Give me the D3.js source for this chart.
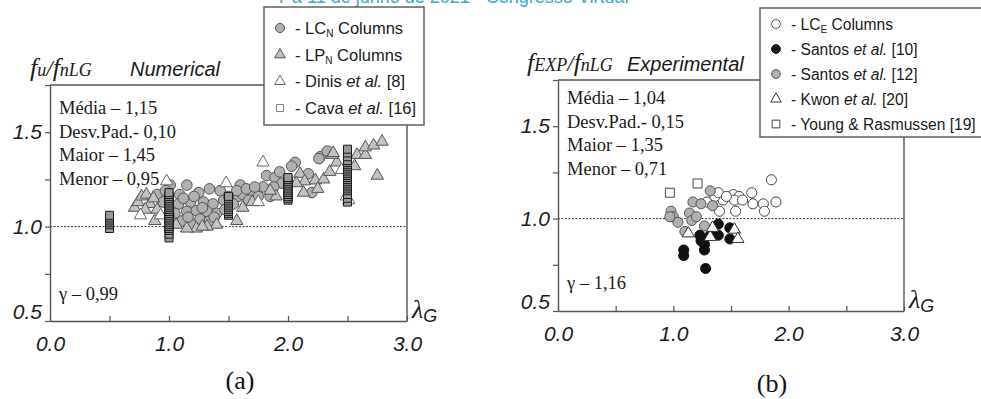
<!DOCTYPE html>
<html>
<head>
<meta charset="utf-8">
<script src="https://cdn.jsdelivr.net/npm/d3@7"></script>
<style>
  body { margin: 0; background: #fff; }
  svg { display: block; }
</style>
</head>
<body>
<div id="chart"></div>
<script>
// --- datos ---
// (a) Numerical: [lambdaG, fu/fnLG]
var lcN = [[0.90,1.17],[1.01,1.22],[1.15,1.22],[1.09,1.17],[1.25,1.18],[1.34,1.20],[1.43,1.19],[1.08,1.12],
  [1.18,1.13],[1.29,1.13],[1.37,1.12],[1.15,1.08],[1.23,1.085],[1.32,1.08],[1.40,1.07],[1.11,1.03],[1.26,1.04],
  [1.34,1.03],[1.19,1.01],[1.60,1.22],[1.58,1.16],[1.54,1.12],[1.05,1.07],[0.95,1.13],[0.97,1.19],[2.06,1.34],
  [2.03,1.32],[1.82,1.27],[1.89,1.26],[1.93,1.29],[1.95,1.23],[1.88,1.21],[1.79,1.21],[1.74,1.17],[1.68,1.18],
  [1.62,1.17],[1.57,1.19],[1.67,1.14],[1.75,1.16],[1.85,1.16],[2.17,1.28],[2.20,1.18],[2.27,1.37],[2.33,1.40],
  [2.26,1.36],[1.12,1.15],[1.21,1.16],[1.28,1.10],[1.46,1.14],[1.50,1.16],[1.65,1.20],[1.72,1.21],[1.00,1.06],
  [1.16,1.05],[1.38,1.05],[1.47,1.09]];
var lpN = [[0.71,1.10],[0.74,1.13],[0.77,1.16],[0.81,1.17],[0.84,1.12],[0.87,1.15],[0.80,1.09],[0.90,1.09],
  [0.88,1.03],[1.23,0.99],[1.06,1.01],[1.40,1.01],[1.32,1.00],[1.57,1.03],[2.10,1.28],[2.14,1.24],[2.23,1.245],
  [2.30,1.25],[2.35,1.29],[2.41,1.34],[2.37,1.38],[1.90,1.16],[2.13,1.18],[2.07,1.23],[2.38,1.39],[2.58,1.38],
  [2.56,1.32],[2.65,1.38],[2.65,1.42],[2.72,1.43],[2.79,1.45],[2.75,1.27],[1.15,0.99],[1.28,1.00],[1.62,1.10],
  [1.70,1.13],[1.85,1.19],[2.25,1.20]];
var dinis = [[0.98,1.24],[1.48,1.23],[1.79,1.34],[0.76,1.06],[0.93,1.06],[2.49,1.16],[2.51,1.14],[1.75,1.13],[2.45,1.30]];
var cavaLambda = [0.5, 1.0, 1.5, 2.0, 2.5];
var cavaValues = [
  [0.99,1.01,1.02,1.03,1.04,1.05,1.06],
  [0.94,0.96,0.98,0.99,1.00,1.01,1.02,1.03,1.04,1.05,1.06,1.07,1.08,1.09,1.10,1.11,1.12,1.13,1.14,1.15,1.16,1.17,1.18],
  [1.06,1.07,1.08,1.09,1.10,1.11,1.12,1.13,1.14,1.15,1.16],
  [1.14,1.15,1.16,1.17,1.18,1.19,1.20,1.21,1.22,1.23,1.24,1.25,1.26],
  [1.13,1.15,1.17,1.19,1.20,1.21,1.22,1.23,1.24,1.25,1.26,1.27,1.28,1.29,1.30,1.31,1.32,1.33,1.34,1.35,1.37,1.39,1.41]
];

// (b) Experimental: [lambdaG, fEXP/fnLG]
var lcE = [[1.85,1.21],[1.89,1.09],[1.52,1.13],[1.57,1.12],[1.68,1.14],[1.69,1.08],[1.78,1.08],[1.79,1.04],
  [1.54,1.04],[1.43,1.10],[1.40,1.04],[1.36,1.12],[1.29,1.09],[1.53,1.10],[1.39,1.14],[1.46,1.12],[1.60,1.10]];
var santos10 = [[1.09,0.83],[1.09,0.80],[1.27,0.83],[1.28,0.73],[1.23,0.91],[1.24,0.88],[1.39,0.97],[1.39,0.91],
  [1.49,0.95],[1.49,0.89],[1.32,0.91],[1.27,0.86]];
var santos12 = [[1.32,1.15],[1.17,1.09],[1.24,1.08],[1.34,1.07],[0.98,1.04],[1.00,1.01],[1.04,0.98],[1.14,1.03],
  [1.16,0.99],[1.20,1.01],[1.10,0.93],[1.27,0.96],[0.97,1.01]];
var kwon = [[1.13,0.92],[1.32,0.90],[1.34,0.95],[1.53,0.94],[1.56,0.89]];
var young = [[0.97,1.14],[1.21,1.19]];

var xTicks = [0, 0.5, 1, 1.5, 2, 2.5, 3];
var yTicks = [0.5, 0.75, 1, 1.25, 1.5, 1.75];
var statsA = ["Média – 1,15", "Desv.Pad.- 0,10", "Maior – 1,45", "Menor – 0,95"];
var statsB = ["Média – 1,04", "Desv.Pad.- 0,15", "Maior – 1,35", "Menor – 0,71"];

var SANS = "'Liberation Sans', Arial, sans-serif";
var SERIF = "'Liberation Serif', 'Times New Roman', serif";

var svg = d3.select("#chart").append("svg")
    .attr("width", 981)
    .attr("height", 399);

// encabezado (cortado arriba, como en la figura)
svg.append("text")
    .attr("x", 277).attr("y", 3)
    .attr("font-family", SANS).attr("font-size", 18)
    .attr("fill", "#3ba8c8")
    .text("7 a 11 de junho de 2021 - Congresso Virtual");

function drawPanel(p) {
    var x = d3.scaleLinear().domain([0, 3]).range([p.x0, p.x1]);
    var y = d3.scaleLinear().domain([0.5, 1.75]).range([p.y0, p.y1]);
    var g = svg.append("g");

    // linea punteada en 1.0
    g.append("line")
        .attr("x1", x(0)).attr("x2", x(3))
        .attr("y1", y(1)).attr("y2", y(1))
        .attr("stroke", "#333").attr("stroke-width", 1)
        .attr("stroke-dasharray", "2,1.5");

    // marco: arriba hasta la leyenda, derecha hasta la leyenda
    g.append("line")
        .attr("x1", x(0)).attr("x2", p.legX)
        .attr("y1", y(1.75)).attr("y2", y(1.75))
        .attr("stroke", "#555").attr("stroke-width", 1.4);
    g.append("line")
        .attr("x1", x(3)).attr("x2", x(3))
        .attr("y1", y(0.5)).attr("y2", p.legBottom)
        .attr("stroke", "#555").attr("stroke-width", 1.4);

    // ejes
    var yAxis = g.append("g")
        .attr("transform", "translate(" + x(0) + ",0)")
        .call(d3.axisLeft(y).tickValues(yTicks).tickSize(5).tickSizeOuter(0).tickPadding(3)
            .tickFormat(function(d) { return (d === 0.5 || d === 1 || d === 1.5) ? d.toFixed(1) : ""; }));
    var xAxis = g.append("g")
        .attr("transform", "translate(0," + y(0.5) + ")")
        .call(d3.axisBottom(x).tickValues(xTicks).tickSizeInner(-5).tickSizeOuter(0).tickPadding(15)
            .tickFormat(function(d) { return d % 1 === 0 ? d.toFixed(1) : ""; }));
    [yAxis, xAxis].forEach(function(a) {
        a.select(".domain").attr("stroke", "#555").attr("stroke-width", 1.4);
        a.selectAll(".tick line").attr("stroke", "#555").attr("stroke-width", 1.2);
        a.selectAll(".tick text")
            .attr("font-family", SANS).attr("font-size", 21)
            .attr("font-style", "italic").attr("fill", "#1a1a1a");
    });
    yAxis.selectAll(".tick text").filter(function(d) { return d === 0.5; }).attr("dy", "-0.1em");

    // puntos
    p.series.forEach(function(s) {
        var sym = d3.symbol().type(s.shape).size(s.size);
        g.append("g").selectAll("path")
            .data(s.data)
            .enter().append("path")
            .attr("d", sym)
            .attr("transform", function(d) { return "translate(" + x(d[0]) + "," + y(d[1]) + ")"; })
            .attr("fill", s.fill)
            .attr("stroke", s.stroke)
            .attr("stroke-width", 1);
    });

    // titulo del eje y
    var t = g.append("text").attr("x", p.titleX).attr("y", p.titleY)
        .attr("font-family", SERIF).attr("font-style", "italic").attr("fill", "#1a1a1a");
    p.title.forEach(function(part) {
        t.append("tspan").attr("font-size", part[1]).text(part[0]);
    });
    g.append("text").attr("x", p.labelX).attr("y", p.titleY)
        .attr("font-family", SANS).attr("font-style", "italic").attr("font-size", 20)
        .attr("fill", "#1a1a1a").text(p.label);

    // estadisticas
    g.selectAll("text.stat")
        .data(p.stats)
        .enter().append("text")
        .attr("class", "stat")
        .attr("x", x(0) + 9)
        .attr("y", function(d, i) { return p.statY + i * 23.5; })
        .attr("font-family", SERIF).attr("font-size", 18.5).attr("fill", "#1a1a1a")
        .text(function(d) { return d; });
    g.append("text").attr("x", x(0) + 9).attr("y", p.gammaY)
        .attr("font-family", SERIF).attr("font-size", 18.5).attr("fill", "#1a1a1a")
        .text(p.gamma);

    // lambda G
    var lam = g.append("text").attr("x", x(3) + 5).attr("y", y(0.5) - 3).attr("fill", "#1a1a1a");
    lam.append("tspan").attr("font-family", SERIF).attr("font-style", "italic").attr("font-size", 26).text("λ");
    lam.append("tspan").attr("font-family", SANS).attr("font-style", "italic").attr("font-size", 18)
        .attr("dy", 4).text("G");

    // leyenda
    g.append("rect")
        .attr("x", p.legX).attr("y", p.legTop)
        .attr("width", p.legW).attr("height", p.legBottom - p.legTop)
        .attr("fill", "#fff").attr("stroke", "#555").attr("stroke-width", 1.4);
    p.legend.forEach(function(item, i) {
        var cy = p.legY0 + i * p.legStep;
        var s = item.series;
        g.append("path")
            .attr("d", d3.symbol().type(s.shape).size(s.size * 0.75))
            .attr("transform", "translate(" + (p.legX + 16) + "," + cy + ")")
            .attr("fill", s.legFill || s.fill).attr("stroke", s.legStroke || s.stroke).attr("stroke-width", 1);
        var txt = g.append("text")
            .attr("x", p.legX + 31).attr("y", cy + 6)
            .attr("font-family", SANS).attr("font-size", p.legFont).attr("fill", "#1a1a1a");
        item.parts.forEach(function(part) {
            var ts = txt.append("tspan").text(part.t);
            if (part.sub) ts.attr("font-size", 10).attr("dy", 3);
            if (part.back) ts.attr("dy", -3);
            if (part.it) ts.attr("font-style", "italic");
        });
    });

    // etiqueta (a)/(b)
    g.append("text").attr("x", p.capX).attr("y", p.capY)
        .attr("text-anchor", "middle")
        .attr("font-family", SERIF).attr("font-size", 26).attr("fill", "#111")
        .text(p.caption);
}

var sLcN = { data: lcN, shape: d3.symbolCircle, size: 88, fill: "#b0b0b0", stroke: "#555" };
var sLpN = { data: lpN, shape: d3.symbolTriangle, size: 66, fill: "#c2c2c2", stroke: "#555" };
var sDinis = { data: dinis, shape: d3.symbolTriangle, size: 66, fill: "#fff", stroke: "#666" };
var cavaPts = [];
cavaLambda.forEach(function(l, i) {
    cavaValues[i].forEach(function(v) { cavaPts.push([l, v]); });
});
var sCava = { data: cavaPts, shape: d3.symbolSquare, size: 64, fill: "#9a9a9a", stroke: "#1a1a1a",
    legFill: "#fff", legStroke: "#777" };

drawPanel({
    x0: 50, x1: 407, y0: 321, y1: 85,
    legX: 264, legTop: 7, legW: 160, legBottom: 125, legY0: 28, legStep: 26.7, legFont: 16.5,
    series: [sLcN, sLpN, sDinis, sCava],
    title: [["f", 26], ["u", 18], ["/", 23], ["f", 26], ["nLG", 18]],
    titleX: 30, titleY: 76, labelX: 130, label: "Numerical",
    stats: statsA, statY: 114, gamma: "γ – 0,99", gammaY: 300,
    caption: "(a)", capX: 240, capY: 389,
    legend: [
        { series: sLcN, parts: [{ t: "- LC" }, { t: "N", sub: true }, { t: " Columns", back: true }] },
        { series: sLpN, parts: [{ t: "- LP" }, { t: "N", sub: true }, { t: " Columns", back: true }] },
        { series: sDinis, parts: [{ t: "- Dinis " }, { t: "et al.", it: true }, { t: " [8]" }] },
        { series: sCava, parts: [{ t: "- Cava " }, { t: "et al.", it: true }, { t: " [16]" }] }
    ]
});

var sLcE = { data: lcE, shape: d3.symbolCircle, size: 80, fill: "#fff", stroke: "#444" };
var sS10 = { data: santos10, shape: d3.symbolCircle, size: 80, fill: "#111", stroke: "#111" };
var sS12 = { data: santos12, shape: d3.symbolCircle, size: 80, fill: "#b0b0b0", stroke: "#555" };
var sKwon = { data: kwon, shape: d3.symbolTriangle, size: 64, fill: "#fff", stroke: "#333" };
var sYoung = { data: young, shape: d3.symbolSquare, size: 80, fill: "#fff", stroke: "#444" };

drawPanel({
    x0: 558, x1: 904, y0: 311, y1: 80,
    legX: 760, legTop: 8, legW: 230, legBottom: 137, legY0: 24, legStep: 25, legFont: 15.6,
    series: [sLcE, sS12, sS10, sKwon, sYoung],
    title: [["f", 26], ["EXP", 18], ["/", 23], ["f", 26], ["nLG", 18]],
    titleX: 527, titleY: 71, labelX: 627, label: "Experimental",
    stats: statsB, statY: 104, gamma: "γ – 1,16", gammaY: 289,
    caption: "(b)", capX: 772, capY: 392,
    legend: [
        { series: sLcE, parts: [{ t: "- LC" }, { t: "E", sub: true }, { t: " Columns", back: true }] },
        { series: sS10, parts: [{ t: "- Santos " }, { t: "et al.", it: true }, { t: " [10]" }] },
        { series: sS12, parts: [{ t: "- Santos " }, { t: "et al.", it: true }, { t: " [12]" }] },
        { series: sKwon, parts: [{ t: "- Kwon " }, { t: "et al.", it: true }, { t: " [20]" }] },
        { series: sYoung, parts: [{ t: "- Young & Rasmussen [19]" }] }
    ]
});
</script>
</body>
</html>
